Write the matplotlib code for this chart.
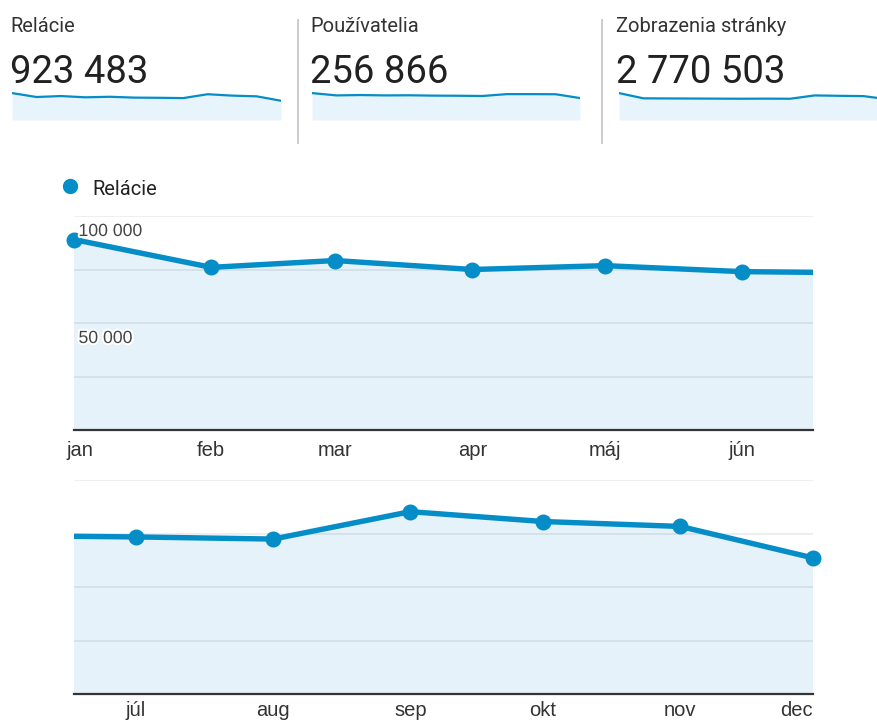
import numpy as np
import matplotlib
matplotlib.use("Agg")
import matplotlib.pyplot as plt
from matplotlib.lines import Line2D
import matplotlib.patheffects as pe

# ---------------- data ----------------
months = ["jan", "feb", "mar", "apr", "máj", "jún", "júl", "aug", "sep", "okt", "nov", "dec"]
sessions = [89000, 76000, 79200, 75000, 76800, 74000, 73400, 72400, 85200, 80600, 78300, 63600]
users = [23200, 21200, 21500, 21200, 21300, 21000, 20900, 20700, 22300, 22300, 22200, 18900]
pageviews = [276000, 222000, 221000, 220000, 219000, 218000, 219000, 218000, 252000, 248000, 245000, 212000]
metric_names = ["Relácie", "Používatelia", "Zobrazenia stránky"]
metric_totals = [923483, 256866, 2770503]
y_ticks = [0, 25000, 50000, 75000, 100000]
y_labels_shown = [100000, 50000]
legend_label = "Relácie"

# month start positions in days from 1 Jan
month_starts = np.arange("2019-01", "2020-01", dtype="datetime64[M]")
days = (month_starts.astype("datetime64[D]") - month_starts[0].astype("datetime64[D]")).astype(int)

# ---------------- style ----------------
W, H = 877, 720
BLUE = "#058dc7"
FILL = "#e5f2f9"
SPARK_FILL = "#e8f4fb"
fig = plt.figure(figsize=(W / 100, H / 100), dpi=100)
fig.patch.set_facecolor("white")


def px_axes(x0, y0, x1, y1):
    return fig.add_axes([x0 / W, 1 - y1 / H, (x1 - x0) / W, (y1 - y0) / H])


def fmt(v):
    return f"{v:,}".replace(",", " ")


# ---------------- top scorecards ----------------
card_x = [10, 310, 616]
spark_boxes = [(12, 92, 281, 120), (312, 92, 580, 120), (619, 92, 888, 120)]
spark_data = [sessions, users, pageviews]
for i in range(3):
    fig.text(card_x[i] / W, 1 - 31.7 / H, metric_names[i], fontsize=14.5,
             family="Roboto", color="#333333", va="baseline", ha="left")
    fig.text(card_x[i] / W, 1 - 82.7 / H, fmt(metric_totals[i]), fontsize=27.5,
             family="Roboto", color="#212121", va="baseline", ha="left")
    sax = px_axes(*spark_boxes[i])
    idx = np.arange(len(spark_data[i]))
    sax.fill_between(idx, spark_data[i], color=SPARK_FILL, lw=0)
    sax.plot(idx, spark_data[i], color=BLUE, lw=1.6, solid_joinstyle="round")
    sax.set_xlim(0, len(idx) - 1)
    sax.set_ylim(0, max(spark_data[i]) * 1.04)
    sax.axis("off")

for sx in [298, 602]:
    fig.add_artist(Line2D([sx / W, sx / W], [1 - 20 / H, 1 - 143 / H],
                          color="#cccccc", lw=1.4, transform=fig.transFigure))

# ---------------- legend ----------------
fig.add_artist(Line2D([70 / W], [1 - 186 / H], marker="o", ms=10, color=BLUE,
                      lw=0, transform=fig.transFigure))
fig.text(92 / W, 1 - 195 / H, legend_label, fontsize=14.5, family="Roboto",
         color="#222222", va="baseline", ha="left")

# ---------------- main chart (two rows) ----------------
span = days[-1] - 167
ranges = [(days[0], days[0] + span), (days[-1] - span, days[-1])]
boxes = [(74, 216, 813, 430), (74, 480, 813, 694)]
label_offsets = [-26.5, -21.5]
x = days.astype(float)
y = np.array(sessions, dtype=float)

for r, (lo, hi) in enumerate(ranges):
    ax = px_axes(*boxes[r])
    ax.fill_between(x, y, color=FILL, lw=0, zorder=1)
    for g in y_ticks[1:]:
        ax.axhline(g, color="black", alpha=0.075, lw=1.3, zorder=2)
    ax.plot(x, y, color=BLUE, lw=3.9, zorder=3, solid_joinstyle="round")
    m = (x >= lo) & (x <= hi)
    ax.plot(x[m], y[m], "o", ms=10.5, color=BLUE, clip_on=False, zorder=4)
    ax.axhline(0, color="#333333", lw=1.6, zorder=5, clip_on=False)
    ax.set_xlim(lo, hi)
    ax.set_ylim(0, y_ticks[-1])
    ax.set_xticks([])
    ax.set_yticks([])
    for s in ax.spines.values():
        s.set_visible(False)
    ax.patch.set_alpha(0)

    for d, name in zip(x, months):
        if d < lo or d > hi:
            continue
        ha, dx = "center", 0
        if d == lo:
            dx = 6
        if d == hi:
            ha = "right"
        ax.annotate(name, xy=(d, 0), xycoords=("data", "axes fraction"),
                    xytext=(dx, label_offsets[r]), textcoords="offset pixels",
                    ha=ha, va="baseline", fontsize=14.5, family="Liberation Sans",
                    color="#333333", annotation_clip=False)

    if r == 0:
        for v in y_labels_shown:
            ax.annotate(fmt(v), xy=(0, v), xycoords=("axes fraction", "data"),
                        xytext=(4.5, -20), textcoords="offset pixels",
                        ha="left", va="baseline", fontsize=12.7,
                        family="Liberation Sans", color="#444444", zorder=6,
                        path_effects=[pe.withStroke(linewidth=3, foreground="white")])

fig.savefig("out.png", dpi=100, facecolor="white")
